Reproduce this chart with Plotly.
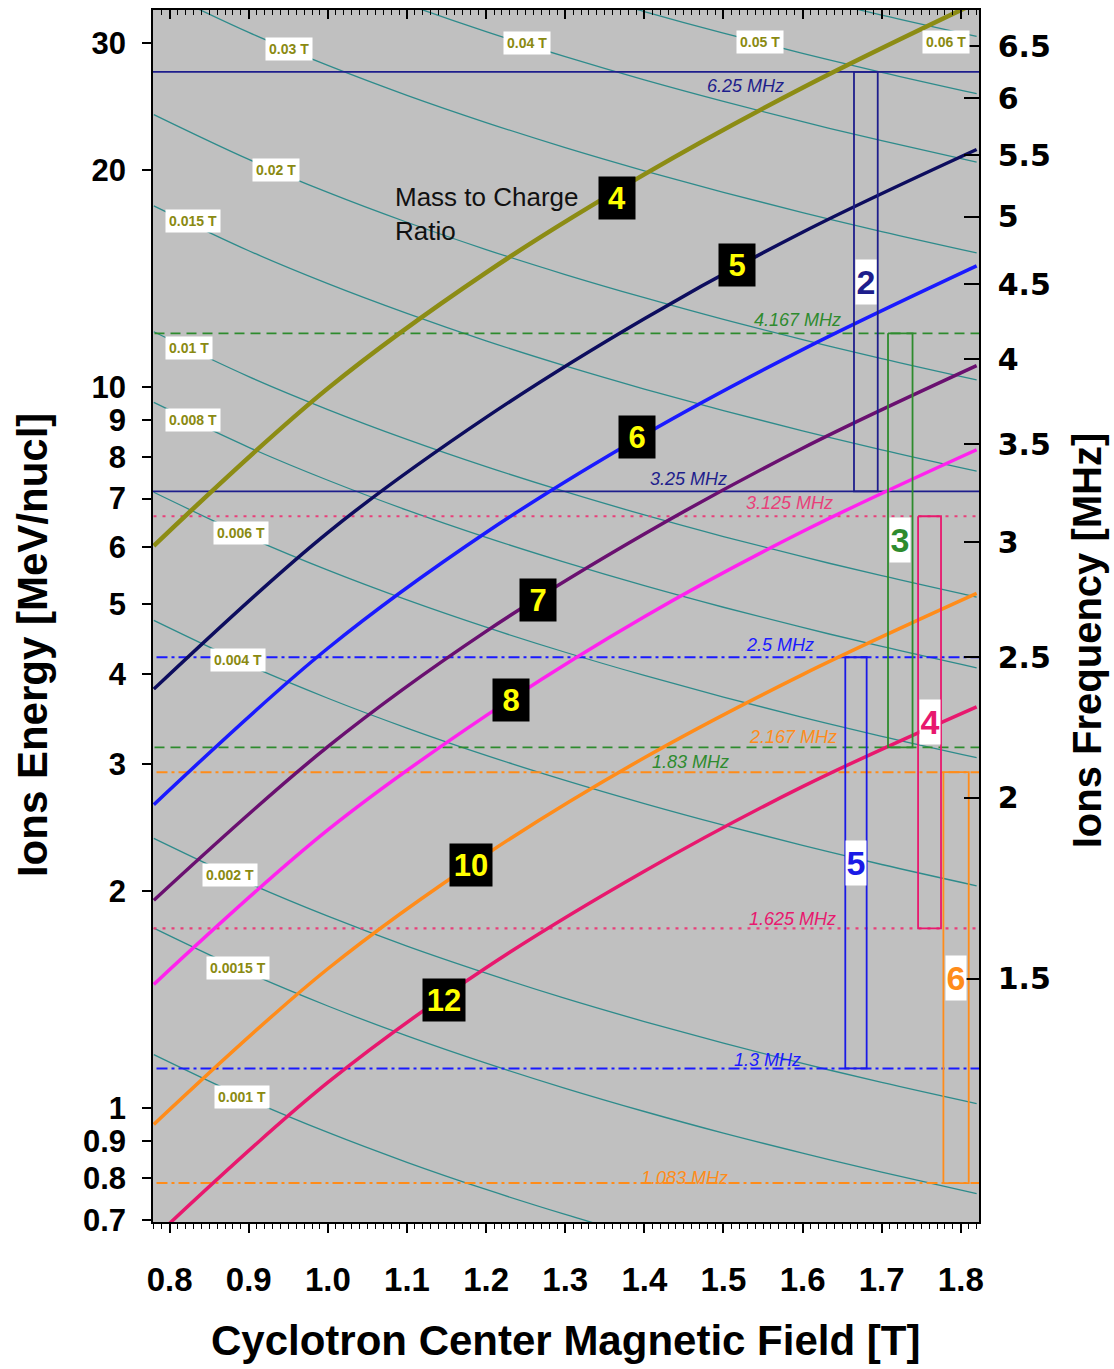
import numpy as np
import plotly.graph_objects as go

# ---------------- data ----------------
# Mass-to-charge curves: energy [MeV/nucl] read at these centre fields [T]
mq_B = [0.78, 1.0, 1.2, 1.4, 1.6, 1.82]
mq4_E = [6.02, 9.95, 14.40, 19.70, 25.98, 34.1]
mq5_E = [3.81, 6.28, 9.07, 12.43, 16.38, 21.33]
mq6_E = [2.634, 4.34, 6.28, 8.58, 11.26, 14.71]
mq7_E = [1.941, 3.17, 4.58, 6.25, 8.22, 10.70]
mq8_E = [1.484, 2.43, 3.50, 4.80, 6.30, 8.18]
mq10_E = [0.949, 1.56, 2.247, 3.06, 3.99, 5.17]
mq12_E = [0.660, 1.085, 1.565, 2.13, 2.79, 3.60]
mq_labels = ["4", "5", "6", "7", "8", "10", "12"]

# Constant field-error lines (teal), energies read at these centre fields
teal_B = [0.78, 0.9, 1.0, 1.1, 1.2, 1.3, 1.4, 1.5, 1.6, 1.7, 1.82]
teal_0p001 = [1.186, 1.028, 0.925, 0.841, 0.771, 0.712, 0.661, None, None, None, None]
teal_0p0015 = [1.776, 1.539, 1.385, 1.259, 1.154, 1.065, 0.989, 0.923, 0.866, 0.815, 0.761]
teal_0p002 = [2.365, 2.050, 1.845, 1.677, 1.538, 1.419, 1.318, 1.230, 1.153, 1.085, 1.014]
teal_0p004 = [4.744, 4.111, 3.700, 3.364, 3.083, 2.846, 2.643, 2.467, 2.313, 2.176, 2.033]
teal_0p006 = [7.141, 6.189, 5.570, 5.064, 4.642, 4.285, 3.979, 3.713, 3.481, 3.276, 3.060]
teal_0p008 = [9.513, 8.244, 7.420, 6.745, 6.183, 5.708, 5.300, 4.947, 4.638, 4.365, 4.077]
teal_0p01 = [11.92, 10.33, 9.30, 8.455, 7.75, 7.154, 6.643, 6.20, 5.813, 5.471, 5.110]
teal_0p015 = [17.82, 15.44, 13.90, 12.64, 11.58, 10.69, 9.929, 9.267, 8.688, 8.176, 7.637]
teal_0p02 = [23.85, 20.67, 18.60, 16.91, 15.50, 14.31, 13.29, 12.40, 11.63, 10.94, 10.22]
teal_0p03 = [35.77, 31.00, 27.90, 25.36, 23.25, 21.46, 19.93, 18.60, 17.44, 16.41, 15.33]
teal_0p04 = [None, None, 37.30, 33.91, 31.08, 28.69, 26.64, 24.87, 23.31, 21.94, 20.49]
teal_0p05 = [None, None, None, None, 38.67, 35.69, 33.14, 30.93, 29.00, 27.29, 25.49]
teal_0p06 = [None, None, None, None, None, None, None, 37.13, 34.81, 32.76, 30.60]
teal_labels = ["0.001 T", "0.0015 T", "0.002 T", "0.004 T", "0.006 T", "0.008 T",
               "0.01 T", "0.015 T", "0.02 T", "0.03 T", "0.04 T", "0.05 T", "0.06 T"]

# RF frequency lines [MHz] and harmonic ranges
freq_lines = [6.25, 4.167, 3.25, 3.125, 2.5, 2.167, 2.083, 1.625, 1.3, 1.083]
freq_texts = ["6.25 MHz", "4.167 MHz", "3.25 MHz", "3.125 MHz", "2.5 MHz",
              "2.167 MHz", "1.83 MHz", "1.625 MHz", "1.3 MHz", "1.083 MHz"]
harmonics = [2, 3, 4, 5, 6]
harm_f_high = [6.25, 4.167, 3.125, 2.5, 2.083]
harm_f_low = [3.25, 2.167, 1.625, 1.3, 1.083]

# axis ticks
x_ticks = [0.8, 0.9, 1.0, 1.1, 1.2, 1.3, 1.4, 1.5, 1.6, 1.7, 1.8]
x_ticktext = ["0.8", "0.9", "1.0", "1.1", "1.2", "1.3", "1.4", "1.5", "1.6", "1.7", "1.8"]
y_ticks = [0.7, 0.8, 0.9, 1, 2, 3, 4, 5, 6, 7, 8, 9, 10, 20, 30]
y_ticktext = ["0.7", "0.8", "0.9", "1", "2", "3", "4", "5", "6", "7", "8", "9", "10", "20", "30"]
f_ticks = [6.5, 6, 5.5, 5, 4.5, 4, 3.5, 3, 2.5, 2, 1.5]
f_ticktext = ["6.5", "6", "5.5", "5", "4.5", "4", "3.5", "3", "2.5", "2", "1.5"]

# ---------------- frequency <-> energy scale of the right axis ----------------
M_U = 931.494      # MeV per nucleon
R_EXT = 1.81       # extraction radius [m]
C_LIGHT = 2.998e8


def freq_to_energy(f_mhz):
    beta = 2 * np.pi * np.asarray(f_mhz, dtype=float) * 1e6 * R_EXT / C_LIGHT
    return M_U * (1.0 / np.sqrt(1.0 - beta ** 2) - 1.0)


# ---------------- styling ----------------
XR = [0.779, 1.823]
YR = [np.log10(0.695), np.log10(33.3)]
BG = "#C0C0C0"
TEAL = "#2E8B8B"
OLIVE_TXT = "#8A8A12"
BOLDF = "Liberation Sans, Arial"
ARIAL = "Liberation Sans, Arial"

curve_colors = ["#8C8C14", "#0D0D5E", "#1A1AFF", "#6A1070", "#FF22EE", "#FF8C1A", "#E8186E"]
curve_widths = [4.5, 3.5, 3.5, 3.5, 3.5, 3.5, 3.5]
curve_label_pos = [(1.3657, 18.29), (1.5172, 14.77), (1.3909, 8.52), (1.2659, 5.07),
                   (1.2318, 3.68), (1.1813, 2.173), (1.1472, 1.412)]

teal_label_pos = [(0.891, 1.036), (0.887, 1.564), (0.876, 2.105), (0.886, 4.18), (0.890, 6.27),
                  (0.830, 9.00), (0.825, 11.33), (0.830, 16.99), (0.934, 20.0), (0.9515, 29.43),
                  (1.252, 30.0), (1.546, 30.1), (1.781, 30.1)]

DASH = "10px,6px"
DOT = "3px,6px"
DASHDOT = "11px,4px,3px,4px"
freq_styles = [("#1E1E8C", "solid", 1.8), ("#2E8B2E", DASH, 1.8), ("#1E1E8C", "solid", 1.8),
               ("#E8407A", DOT, 2.2), ("#1A1AFF", DASHDOT, 2.0), ("#2E8B2E", DASH, 1.8),
               ("#FF8C1A", DASHDOT, 2.0), ("#E8407A", DOT, 2.2), ("#1A1AFF", DASHDOT, 2.0),
               ("#FF8C1A", DASHDOT, 2.0)]
freq_text_colors = ["#1E1E8C", "#2E8B2E", "#1E1E8C", "#E8407A", "#1A1AFF",
                    "#FF8C1A", "#2E8B2E", "#E8186E", "#1A1AFF", "#FF8C1A"]
freq_text_pos = [(1.5273, 26.15), (1.5942, 12.38), (1.4553, 7.45), (1.5841, 6.90), (1.5715, 4.39),
                 (1.5879, 3.27), (1.4578, 3.02), (1.5879, 1.829), (1.5551, 1.166), (1.4503, 0.800)]

harm_colors = ["#1E1E8C", "#2E8B2E", "#E8186E", "#1A1AE6", "#FF8C1A"]
harm_B_edges = [(1.665, 1.695), (1.708, 1.739), (1.746, 1.775), (1.654, 1.681), (1.778, 1.810)]

fig = go.Figure()

# teal lines
teal_series = [teal_0p001, teal_0p0015, teal_0p002, teal_0p004, teal_0p006, teal_0p008,
               teal_0p01, teal_0p015, teal_0p02, teal_0p03, teal_0p04, teal_0p05, teal_0p06]
for vals in teal_series:
    fig.add_trace(go.Scatter(x=teal_B, y=vals, mode="lines",
                             line=dict(color=TEAL, width=1.3, shape="spline", smoothing=1.0),
                             hoverinfo="skip", showlegend=False))

# frequency lines
for f, (col, dash, w) in zip(freq_lines, freq_styles):
    e = float(freq_to_energy(f))
    fig.add_trace(go.Scatter(x=[0.7, 1.9], y=[e, e], mode="lines",
                             line=dict(color=col, width=w, dash=dash),
                             hoverinfo="skip", showlegend=False))

# mass-to-charge curves
curves = [mq4_E, mq5_E, mq6_E, mq7_E, mq8_E, mq10_E, mq12_E]
for ey, col, w in zip(curves, curve_colors, curve_widths):
    fig.add_trace(go.Scatter(x=mq_B, y=ey, mode="lines",
                             line=dict(color=col, width=w, shape="spline", smoothing=1.0),
                             hoverinfo="skip", showlegend=False))

# harmonic range boxes
annotations = []
for h, fh, fl, col, (b0, b1) in zip(harmonics, harm_f_high, harm_f_low, harm_colors, harm_B_edges):
    eh = float(freq_to_energy(fh))
    el = float(freq_to_energy(fl))
    fig.add_trace(go.Scatter(x=[b0, b1, b1, b0, b0], y=[eh, eh, el, el, eh], mode="lines",
                             line=dict(color=col, width=1.8),
                             hoverinfo="skip", showlegend=False))
    annotations.append(dict(x=(b0 + b1) / 2, y=(np.log10(eh) + np.log10(el)) / 2,
                            xref="x", yref="y", text="<b>%d</b>" % h, showarrow=False,
                            font=dict(family=ARIAL, size=34, color=col),
                            bgcolor="white", width=20, height=44, borderpad=0))

# dummy traces for mirrored axes
fig.add_trace(go.Scatter(x=[None], y=[None], xaxis="x2", yaxis="y", showlegend=False))
fig.add_trace(go.Scatter(x=[None], y=[None], xaxis="x", yaxis="y2", showlegend=False))

# curve labels
for lab, (bx, ey) in zip(mq_labels, curve_label_pos):
    annotations.append(dict(x=bx, y=np.log10(ey), xref="x", yref="y", text="<b>%s</b>" % lab,
                            showarrow=False, font=dict(family=ARIAL, size=31, color="#FFFF00"),
                            bgcolor="black", width=34 if len(lab) == 1 else 40, height=40,
                            borderpad=1))

# teal labels
for lab, (bx, ey) in zip(teal_labels, teal_label_pos):
    annotations.append(dict(x=bx, y=np.log10(ey), xref="x", yref="y", text="<b>%s</b>" % lab,
                            showarrow=False, font=dict(family=ARIAL, size=14, color=OLIVE_TXT),
                            bgcolor="white", borderpad=3))

# frequency labels
for txt, col, (bx, ey) in zip(freq_texts, freq_text_colors, freq_text_pos):
    annotations.append(dict(x=bx, y=np.log10(ey), xref="x", yref="y", text="<i>%s</i>" % txt,
                            showarrow=False, font=dict(family=ARIAL, size=18, color=col)))

# mass to charge text
annotations.append(dict(x=1.0828, y=1.287, xref="x", yref="y", xanchor="left", yanchor="top",
                        text="Mass to Charge<br>Ratio", align="left", showarrow=False,
                        font=dict(family=ARIAL, size=26, color="#111111")))

# axis titles
annotations.append(dict(x=0.4988, y=-0.0974, xref="paper", yref="paper",
                        xanchor="center", yanchor="middle",
                        text="<b>Cyclotron Center Magnetic Field [T]</b>", showarrow=False,
                        font=dict(family=BOLDF, size=42, color="black")))
annotations.append(dict(x=-0.1465, y=0.476, xref="paper", yref="paper", textangle=-90,
                        xanchor="center", yanchor="middle",
                        text="<b>Ions Energy [MeV/nucl]</b>", showarrow=False,
                        font=dict(family=BOLDF, size=42, color="black")))
annotations.append(dict(x=1.1308, y=0.480, xref="paper", yref="paper", textangle=-90,
                        xanchor="center", yanchor="middle",
                        text="<b>Ions Frequency [MHz]</b>", showarrow=False,
                        font=dict(family=BOLDF, size=40, color="black")))

f_tick_E = [float(v) for v in freq_to_energy(f_ticks)]

fig.update_layout(
    template="none",
    width=1114, height=1369,
    margin=dict(l=153, r=135, t=10, b=147, autoexpand=False),
    plot_bgcolor=BG, paper_bgcolor="white",
    showlegend=False, hovermode=False,
    annotations=annotations,
    xaxis=dict(range=XR, tickvals=x_ticks, ticktext=x_ticktext, ticks="outside", ticklen=9,
               tickwidth=1.5, tickcolor="black", showline=True, linecolor="black", linewidth=1.5,
               showgrid=False, zeroline=False, ticklabelstandoff=19, automargin=False,
               tickfont=dict(family=BOLDF, size=33, color="black", weight="bold"),
               minor=dict(dtick=0.01, ticks="outside", ticklen=5, tickwidth=1, tickcolor="black")),
    xaxis2=dict(range=XR, overlaying="x", side="top", anchor="y", tickvals=x_ticks,
                showticklabels=False, ticks="inside", ticklen=9, tickwidth=1.5, tickcolor="black",
                showline=True, linecolor="black", linewidth=1.5, showgrid=False, zeroline=False,
                automargin=False,
                minor=dict(dtick=0.01, ticks="inside", ticklen=5, tickwidth=1, tickcolor="black")),
    yaxis=dict(type="log", range=YR, tickvals=y_ticks, ticktext=y_ticktext, ticks="outside",
               ticklen=9, tickwidth=1.5, tickcolor="black", showline=True, linecolor="black",
               linewidth=1.5, showgrid=False, zeroline=False, ticklabelstandoff=10,
               automargin=False,
               tickfont=dict(family=BOLDF, size=31, color="black", weight="bold")),
    yaxis2=dict(type="log", range=YR, overlaying="y", side="right", anchor="x",
                tickvals=f_tick_E, ticktext=f_ticktext, ticks="inside", ticklen=15, tickwidth=1.5,
                tickcolor="black", showline=True, linecolor="black", linewidth=1.5,
                showgrid=False, zeroline=False, ticklabelstandoff=11, automargin=False,
                tickfont=dict(family="DejaVu Sans", size=30, color="black", weight="bold")),
)

fig.write_html("out.html", config={"displayModeBar": False},
               post_script="document.body.style.margin='0px';")
